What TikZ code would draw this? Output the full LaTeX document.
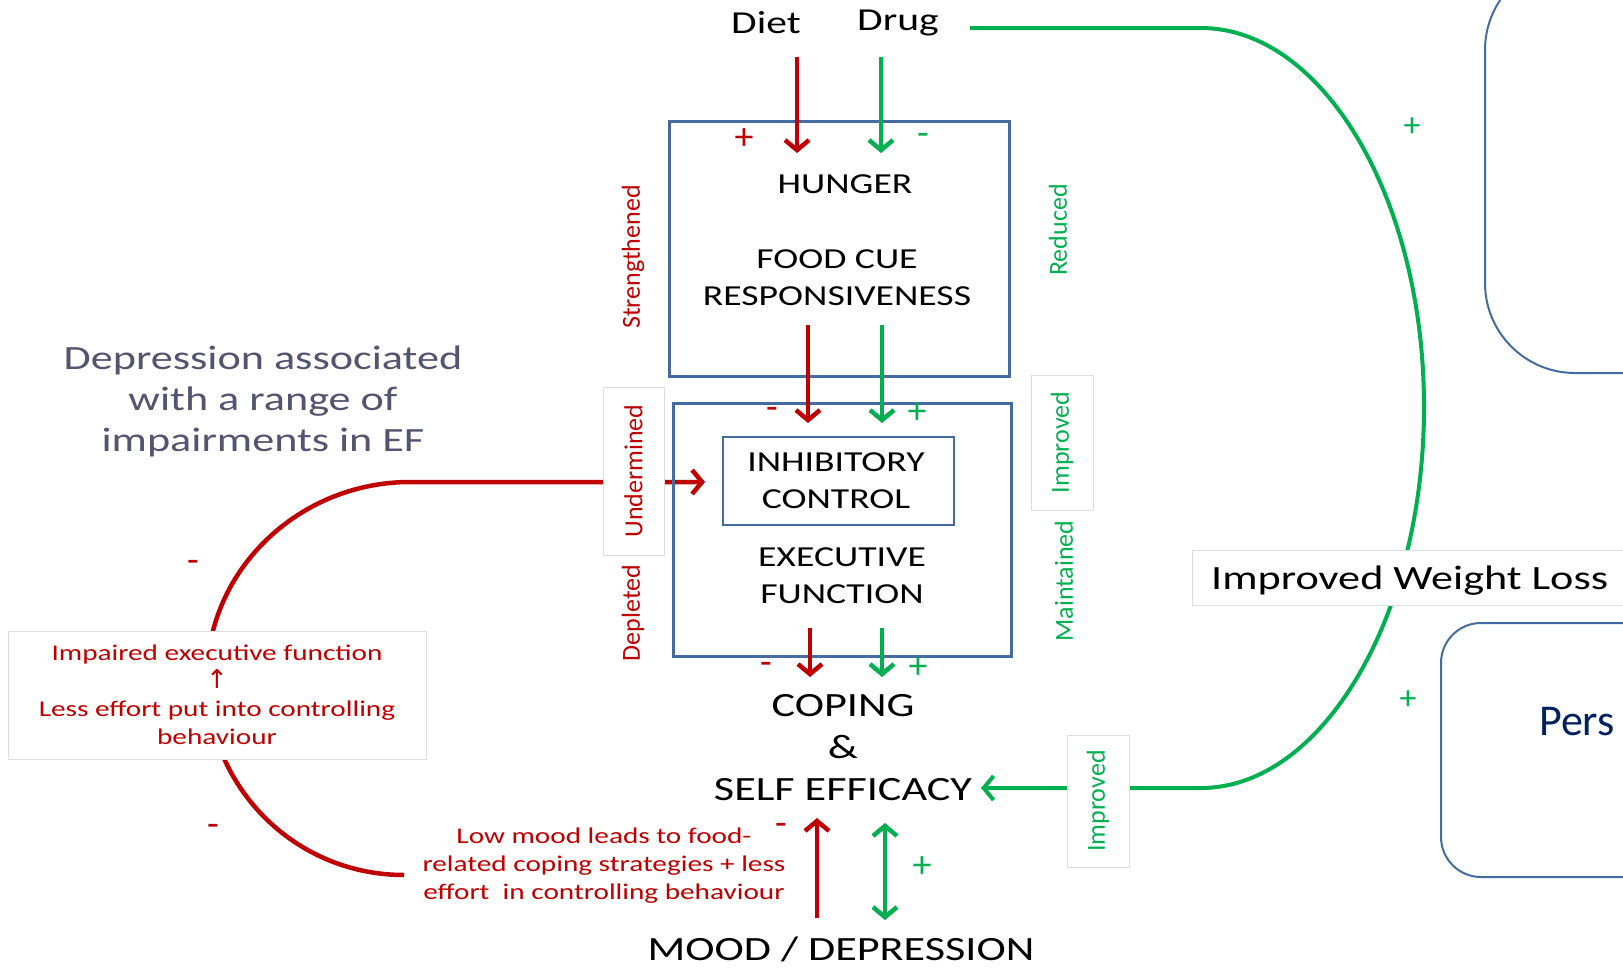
\documentclass[tikz,border=0pt]{standalone}
\usepackage{fontspec}
\setmainfont{Carlito}[FakeStretch=1.3]
\newfontfamily\plainF{Carlito}
\newfontfamily\symF{DejaVu Sans}
\usetikzlibrary{arrows.meta}
\definecolor{redA}{RGB}{192,0,0}
\definecolor{greenA}{RGB}{0,176,80}
\definecolor{blueA}{RGB}{68,108,160}
\definecolor{greyA}{RGB}{222,222,222}
\definecolor{slateA}{RGB}{84,84,112}
\definecolor{navyA}{RGB}{0,32,96}
\tikzset{
	boxA/.style={draw=blueA, line width=3pt, inner sep=0pt},
	frameA/.style={draw=greyA, fill=white, line width=1pt, inner sep=0pt},
	txtT/.style={font={\fontsize{32}{38}\selectfont}, inner sep=0pt},
	txtA/.style={font={\fontsize{29}{37}\selectfont}, align=center, inner sep=0pt},
	txtB/.style={font={\fontsize{34}{42}\selectfont}, align=center, inner sep=0pt},
	noteR/.style={text=redA, font={\fontsize{22.5}{28}\selectfont}, align=center, inner sep=0pt},
	tagR/.style={text=redA, rotate=90, font={\plainF\fontsize{26}{30}\selectfont}},
	tagG/.style={text=greenA, rotate=90, font={\plainF\fontsize{26}{30}\selectfont}},
	signR/.style={text=redA, font={\plainF\fontsize{38}{40}\selectfont}, inner sep=0pt},
	signG/.style={text=greenA, font={\plainF\fontsize{38}{40}\selectfont}, inner sep=0pt},
	arrR/.style={draw=redA, line width=4.5pt, -{Straight Barb[length=10pt,width=24pt]}},
	arrG/.style={draw=greenA, line width=4.5pt, -{Straight Barb[length=10pt,width=24pt]}},
	>={Straight Barb[length=10pt,width=24pt]},
}

\begin{document}
\begin{tikzpicture}[x=1pt, y=-1pt]
\clip (0,0) rectangle (1623,967);
\fill[white] (0,0) rectangle (1623,967);

% loops
\coordinate (gstart) at (970,28);
\coordinate (gend) at (981,788);
\coordinate (rstart) at (404,875);
\coordinate (rend) at (705,482);
\draw[greenA, line width=4pt, -{Straight Barb[length=10pt,width=24pt]}] (gstart) -- (1201,28)
  .. controls (1322,28) and (1424,197) .. (1424,407)
  .. controls (1424,617) and (1322,788) .. (1201,788) -- (gend);
\draw[redA, line width=4.5pt, -{Straight Barb[length=10pt,width=24pt]}] (rstart)
  .. controls (295,875) and (207,787) .. (207,678)
  .. controls (207,569) and (300,482) .. (410,482) -- (rend);

% right boxes
\draw[blueA, line width=2pt, rounded corners=90pt] (1485,-40) rectangle (1720,373);
\draw[blueA, line width=2pt, rounded corners=40pt] (1441,623) rectangle (1720,877);
\node[anchor=base west, text=navyA, inner sep=0pt, font={\plainF\fontsize{44}{50}\selectfont}] (pers) at (1539,735) {Pers};
\draw[frameA] (1192,550) rectangle (1680,605);
\node[anchor=base west, inner sep=0pt, font={\fontsize{34}{40}\selectfont}] (wloss) at (1211,589) {Improved Weight Loss};

% boxes
\node[boxA, minimum width=340, minimum height=255] (hbox) at (839,248.5) {};
\node[boxA, minimum width=338, minimum height=253] (ebox) at (842,529.5) {};
\node[boxA, line width=2pt, minimum width=231, minimum height=88] (ibox) at (838.5,481) {};

\node[txtT] (diet) at (766,23) {Diet};
\node[txtT] (drug) at (898,23) {Drug};
\node[txtA] (hunger) at (845,184) {HUNGER};
\node[txtA] (food) at (837,277.5) {FOOD CUE\\RESPONSIVENESS};
\node[txtA] (inhib) at (836,480.5) {INHIBITORY\\CONTROL};
\node[txtA] (exec) at (842,576) {EXECUTIVE\\FUNCTION};
\node[txtB] (coping) at (843,748) {COPING\\\&\\SELF EFFICACY};
\node[txtB] (mood) at (841,949) {MOOD / DEPRESSION};

% side tags
\node[tagR] (streng) at (633,257) {Strengthened};
\node[tagR, frameA, minimum width=168, minimum height=61] (under) at (633.5,471) {Undermined};
\node[tagR] (deplet) at (633,613) {Depleted};
\node[tagG] (reduc) at (1058,230) {Reduced};
\node[tagG, frameA, minimum width=135, minimum height=62] (impr) at (1062,442.5) {Improved};
\node[tagG] (maint) at (1064,581) {Maintained};
\node[tagG, frameA, minimum width=132, minimum height=62] (impr2) at (1098,801) {Improved};

% notes
\node[text=slateA, align=center, font={\fontsize{34}{41}\selectfont}] (depr) at (263,401) {Depression associated\\with a range of\\impairments in EF};
\node[noteR, frameA, minimum width=418, minimum height=128] (impair) at (217,695)
  {Impaired executive function\\{\symF\fontsize{26}{28}\selectfont ↑}\\Less effort put into controlling\\behaviour};
\node[noteR] (lowmood) at (604,866) {Low mood leads to food-\\related coping strategies + less\\effort\ \ in controlling behaviour};

% arrows
\coordinate (d1) at (797,57);  \coordinate (d2) at (797,153);
\coordinate (g1) at (881,57);  \coordinate (g2) at (881,153);
\coordinate (h1) at (808,325); \coordinate (h2) at (808,423);
\coordinate (h3) at (882,325); \coordinate (h4) at (882,423);
\coordinate (e1) at (810,628); \coordinate (e2) at (810,677);
\coordinate (e3) at (882,628); \coordinate (e4) at (882,677);
\coordinate (m1) at (817,918); \coordinate (m2) at (817,818);
\coordinate (m3) at (885,823); \coordinate (m4) at (885,920);
\draw[arrR] (d1) -- (d2);
\draw[arrG] (g1) -- (g2);
\draw[arrR] (h1) -- (h2);
\draw[arrG] (h3) -- (h4);
\draw[arrR] (e1) -- (e2);
\draw[arrG] (e3) -- (e4);
\draw[arrR] (m1) -- (m2);
\draw[arrG, <->] (m3) -- (m4);

% signs
\node[signR] (s1) at (744,139) {+};
\node[signG] (s2) at (923,139) {-};
\node[signR] (s3) at (772,413) {-};
\node[signG] (s4) at (917,413) {+};
\node[signR] (s5) at (766,668) {-};
\node[signG] (s6) at (918,668) {+};
\node[signR] (s7) at (781,829) {-};
\node[signG] (s8) at (922,867) {+};
\node[signR] (s9) at (193,566) {-};
\node[signR] (s10) at (213,830) {-};
\node[signG, font={\plainF\fontsize{34}{36}\selectfont}] (s11) at (1412,127) {+};
\node[signG, font={\plainF\fontsize{34}{36}\selectfont}] (s12) at (1408,700) {+};
\end{tikzpicture}
\end{document}
